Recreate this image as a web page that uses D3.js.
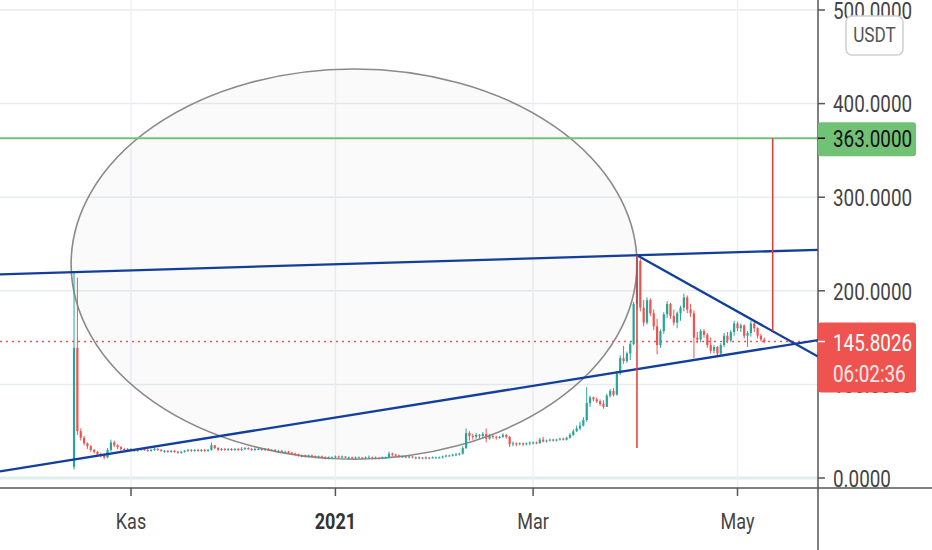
<!DOCTYPE html>
<html>
<head>
<meta charset="utf-8">
<script src="https://cdn.jsdelivr.net/npm/d3@7"></script>
<style>
html, body { margin: 0; padding: 0; background: #fff; }
svg { display: block; font-family: Roboto, "Noto Sans", sans-serif; }
</style>
</head>
<body>
<div id="chart"></div>
<script>
// Daily candles, first one on 2020-10-15 (open of each day = previous close)
const firstDay = "2020-10-15";
const firstOpen = 12;
const closes = [
  139, 50, 43, 37, 34, 30, 28, 25, 24, 22, 30, 38, 35, 33, 31, 30, 31,
  30, 29, 30, 31, 30, 29, 30, 31, 30, 29, 29, 28, 29, 28, 27, 28, 29, 30, 29, 30, 29, 30, 29, 30, 35, 32, 30, 31, 30, 31,
  30, 31, 30, 31, 32, 31, 30, 31, 31, 30, 31, 30, 30, 29, 29, 28, 28, 27, 26, 25, 24, 24, 23, 24, 23, 22, 23, 22, 21, 22, 22,
  23, 22, 23, 22, 22, 21, 22, 22, 21, 22, 22, 21, 22, 21, 22, 22, 26, 25, 24, 23, 23, 22, 23, 22, 21, 22, 21, 22, 21, 22, 22,
  22, 23, 24, 24, 25, 25, 26, 32, 48, 45, 44, 46, 45, 47, 42, 45, 44, 43, 44, 46, 44, 36, 37, 36, 37, 36, 37, 38,
  38, 37, 41, 39, 40, 41, 40, 41, 42, 41, 43, 46, 50, 53, 56, 62, 80, 86, 84, 82, 79, 76, 88, 93, 89, 112, 128, 125, 133, 143, 186,
  232, 182, 166, 190, 176, 162, 142, 157, 175, 186, 173, 166, 176, 182, 193, 180, 176, 150, 148, 157, 153, 142, 136, 140, 133, 142, 152, 147, 156, 165,
  160, 163, 152, 155, 165, 160, 152, 148, 145.8026
];
const highs = [
  220, 214, 53, 45, 38, 35, 31, 29, 27, 25, 32, 41, 40, 36, 34, 32, 32,
  32, 31, 31, 32, 32, 31, 31, 33, 32, 31, 30, 30, 30, 30, 29, 29, 30, 31, 31, 31, 31, 31, 31, 31, 38, 35, 33, 32, 32, 32,
  32, 32, 32, 33, 33, 33, 32, 32, 32, 32, 32, 32, 31, 31, 30, 30, 29, 29, 28, 27, 26, 25, 25, 25, 25, 24, 24, 24, 23, 23, 23,
  24, 24, 24, 23, 23, 23, 23, 23, 22, 23, 24, 23, 23, 22, 23, 23, 28, 27, 26, 25, 24, 24, 24, 23, 23, 23, 22, 23, 22, 23, 23,
  23, 24, 25, 25, 26, 27, 27, 34, 53, 50, 47, 48, 47, 49, 53, 47, 46, 45, 45, 48, 47, 45, 39, 38, 38, 38, 38, 39,
  39, 39, 43, 44, 41, 42, 42, 42, 43, 43, 44, 48, 52, 56, 60, 65, 97, 88, 87, 86, 84, 83, 90, 95, 96, 114, 131, 141, 135, 146, 188,
  238, 234, 190, 193, 192, 180, 170, 159, 177, 189, 187, 180, 178, 184, 197, 195, 186, 179, 156, 159, 159, 155, 150, 142, 141, 144, 155, 156, 158, 168,
  167, 165, 164, 157, 168, 167, 161, 154, 150
];
const lows = [
  9, 46, 40, 35, 31, 28, 26, 23, 22, 20, 21, 28, 33, 31, 29, 28, 29,
  29, 28, 28, 29, 29, 28, 28, 29, 29, 28, 27, 27, 27, 27, 26, 26, 27, 28, 28, 28, 28, 28, 28, 28, 29, 31, 29, 29, 29, 29,
  29, 29, 29, 29, 30, 30, 29, 29, 30, 29, 29, 29, 29, 28, 28, 27, 27, 26, 25, 24, 23, 22, 22, 22, 22, 21, 21, 21, 20, 20, 21,
  21, 21, 21, 21, 20, 20, 20, 21, 20, 20, 21, 20, 20, 20, 20, 21, 21, 23, 23, 22, 22, 21, 21, 21, 20, 20, 20, 20, 20, 21, 21,
  21, 21, 22, 23, 23, 24, 24, 25, 31, 40, 41, 42, 42, 43, 38, 41, 42, 41, 42, 43, 42, 33, 34, 34, 35, 34, 35, 35,
  36, 36, 37, 38, 38, 39, 39, 39, 40, 40, 40, 42, 45, 49, 51, 55, 60, 76, 82, 80, 77, 74, 76, 86, 87, 88, 110, 122, 123, 126, 142,
  180, 178, 162, 164, 173, 158, 132, 139, 154, 171, 170, 163, 160, 168, 178, 176, 172, 128, 144, 145, 150, 139, 133, 133, 130, 131, 140, 144, 145, 152,
  157, 156, 149, 140, 151, 156, 149, 146, 144
];

const priceTicks = [0, 100, 200, 300, 400, 500];
const timeTickDates = ["2020-11-01", "2021-01-01", "2021-03-01", "2021-05-01"];
const timeTickLabels = ["Kas", "2021", "Mar", "May"];
const timeTickBold = [false, true, false, false];

const lastPrice = 145.8026;
const countdown = "06:02:36";
const targetPrice = 363;
const currency = "USDT";

// drawings: [date, price] anchors
const upperLine = [["2020-10-15", 220], ["2021-04-01", 238]];
const lowerLine = [["2020-10-15", 19.8], ["2021-04-01", 116.3]];
const fallingLine = [["2021-04-01", 238], ["2021-05-11", 157.8]];
const poleLine = [["2021-04-01", 238], ["2021-04-01", 32]];
const targetLine = [["2021-05-11T12:00Z", 157], ["2021-05-11T12:00Z", 363]];
const ellipseBox = [["2020-10-14T03:00Z", 20], ["2021-04-01", 437]];

const W = 932, H = 550;
const plotRight = 818, plotBottom = 488;
const UP = "#26a69a", DOWN = "#ef5350";

const day0 = new Date(firstDay);
const candles = closes.map((c, i) => ({
  date: d3.utcDay.offset(day0, i),
  open: i === 0 ? firstOpen : closes[i - 1],
  high: highs[i],
  low: lows[i],
  close: c
}));

const x = d3.scaleUtc()
  .domain([new Date("2020-11-01"), new Date("2021-05-01")])
  .range([131, 737.5]);
const y = d3.scaleLinear().domain([0, 500]).range([478, 10]);

const svg = d3.select("#chart").append("svg")
  .attr("width", W).attr("height", H)
  .attr("viewBox", `0 0 ${W} ${H}`);

svg.append("defs").append("clipPath").attr("id", "plot")
  .append("rect").attr("width", plotRight).attr("height", plotBottom);

const plot = svg.append("g").attr("clip-path", "url(#plot)");

// grid
plot.selectAll("line.hgrid").data(priceTicks).join("line")
  .attr("x1", 0).attr("x2", plotRight)
  .attr("y1", d => y(d)).attr("y2", d => y(d))
  .attr("stroke", d => d === 0 ? "#e1ecee" : "#e8ecf0")
  .attr("stroke-width", d => d === 0 ? 3 : 1.5);
plot.selectAll("line.vgrid").data(timeTickDates).join("line")
  .attr("x1", d => x(new Date(d))).attr("x2", d => x(new Date(d)))
  .attr("y1", 0).attr("y2", plotBottom)
  .attr("stroke", "#edf1f6").attr("stroke-width", 1.5);

// ellipse
const ex0 = x(new Date(ellipseBox[0][0])), ex1 = x(new Date(ellipseBox[1][0]));
const ey0 = y(ellipseBox[0][1]), ey1 = y(ellipseBox[1][1]);
plot.append("ellipse")
  .attr("cx", (ex0 + ex1) / 2).attr("cy", (ey0 + ey1) / 2)
  .attr("rx", (ex1 - ex0) / 2).attr("ry", (ey0 - ey1) / 2)
  .attr("fill", "rgba(120,123,134,0.04)")
  .attr("stroke", "#8a8a8a").attr("stroke-width", 1.6);

// price lines
plot.append("line")
  .attr("x1", 0).attr("x2", plotRight)
  .attr("y1", y(lastPrice)).attr("y2", y(lastPrice))
  .attr("stroke", DOWN).attr("stroke-width", 1.5)
  .attr("stroke-dasharray", "2,4");
plot.append("line")
  .attr("x1", 0).attr("x2", plotRight)
  .attr("y1", y(targetPrice)).attr("y2", y(targetPrice))
  .attr("stroke", "#72c276").attr("stroke-width", 2);

// candles
const bodyW = 2.2;
const candle = plot.selectAll("g.candle").data(candles).join("g");
candle.append("line")
  .attr("x1", d => x(d.date)).attr("x2", d => x(d.date))
  .attr("y1", d => y(d.high)).attr("y2", d => y(d.low))
  .attr("stroke", d => d.close >= d.open ? UP : DOWN)
  .attr("stroke-width", 1);
candle.append("rect")
  .attr("x", d => x(d.date) - bodyW / 2)
  .attr("width", bodyW)
  .attr("y", d => y(Math.max(d.open, d.close)))
  .attr("height", d => Math.max(1, Math.abs(y(d.open) - y(d.close))))
  .attr("fill", d => d.close >= d.open ? UP : DOWN);

// trend lines
function pts(line) {
  return line.map(([d, p]) => [x(new Date(d)), y(p)]);
}
function extended(line, left) {
  const [[x0, y0], [x1, y1]] = pts(line);
  const k = (y1 - y0) / (x1 - x0);
  const xa = left ? 0 : x0, xb = plotRight;
  return [[xa, y0 + k * (xa - x0)], [xb, y0 + k * (xb - x0)]];
}
const blue = "#123f9c";
[[upperLine, true], [lowerLine, true], [fallingLine, false]].forEach(([ln, left]) => {
  const [[a, b], [c, d]] = extended(ln, left);
  plot.append("line").attr("x1", a).attr("y1", b).attr("x2", c).attr("y2", d)
    .attr("stroke", blue).attr("stroke-width", 2.3);
});
[poleLine, targetLine].forEach(ln => {
  const [[a, b], [c, d]] = pts(ln);
  plot.append("line").attr("x1", a).attr("y1", b).attr("x2", c).attr("y2", d)
    .attr("stroke", "#e53935").attr("stroke-width", 1.5);
});

// axes
svg.append("line").attr("x1", plotRight).attr("x2", plotRight)
  .attr("y1", 0).attr("y2", H).attr("stroke", "#555").attr("stroke-width", 1.5);
svg.append("line").attr("x1", 0).attr("x2", W)
  .attr("y1", plotBottom).attr("y2", plotBottom).attr("stroke", "#555").attr("stroke-width", 1.5);

const fmt = d3.format(".4f");
function label(g, tx, ty, text, size, opts = {}) {
  return g.append("text")
    .attr("transform", `translate(${tx},${ty}) scale(0.82,1)`)
    .attr("dominant-baseline", "central")
    .attr("text-anchor", opts.anchor || "start")
    .attr("font-size", size)
    .attr("font-weight", opts.bold ? 700 : 400)
    .attr("fill", opts.fill || "#444")
    .attr("opacity", opts.opacity || 1)
    .text(text);
}

priceTicks.forEach(p => {
  svg.append("line").attr("x1", plotRight).attr("x2", plotRight + 7)
    .attr("y1", y(p)).attr("y2", y(p)).attr("stroke", "#555").attr("stroke-width", 1.5);
  label(svg, 833, y(p) + 0.5, fmt(p), 23);
});

timeTickDates.forEach((d, i) => {
  const tx = x(new Date(d));
  svg.append("line").attr("x1", tx).attr("x2", tx)
    .attr("y1", plotBottom).attr("y2", plotBottom + 8).attr("stroke", "#555").attr("stroke-width", 1.5);
  label(svg, tx, 521, timeTickLabels[i], 22, { anchor: "middle", bold: timeTickBold[i], fill: timeTickBold[i] ? "#333" : "#444" });
});

// target label
const ty = y(targetPrice);
svg.append("rect").attr("x", plotRight).attr("y", ty - 16).attr("width", 98).attr("height", 34)
  .attr("rx", 3).attr("fill", "#72c276");
svg.append("line").attr("x1", plotRight).attr("x2", plotRight + 7)
  .attr("y1", ty).attr("y2", ty).attr("stroke", "#111").attr("stroke-width", 1.5);
label(svg, 833, ty + 0.5, fmt(targetPrice), 23, { fill: "#111" });

// last price label
const ly = y(lastPrice);
svg.append("rect").attr("x", plotRight).attr("y", ly - 19).attr("width", 98).attr("height", 70)
  .attr("rx", 3).attr("fill", DOWN);
svg.append("line").attr("x1", plotRight).attr("x2", plotRight + 7)
  .attr("y1", ly).attr("y2", ly).attr("stroke", "#fff").attr("stroke-width", 1.5);
label(svg, 833, ly + 1, fmt(lastPrice), 23, { fill: "#fff" });
label(svg, 833, ly + 32, countdown, 23, { fill: "#fff", opacity: 0.88 });

// currency badge
svg.append("rect").attr("x", 846).attr("y", 16).attr("width", 57).attr("height", 39)
  .attr("rx", 6).attr("fill", "#fff").attr("stroke", "#cfcfcf").attr("stroke-width", 1.5);
label(svg, 874.5, 35, currency, 21, { anchor: "middle", fill: "#555" });
</script>
</body>
</html>
